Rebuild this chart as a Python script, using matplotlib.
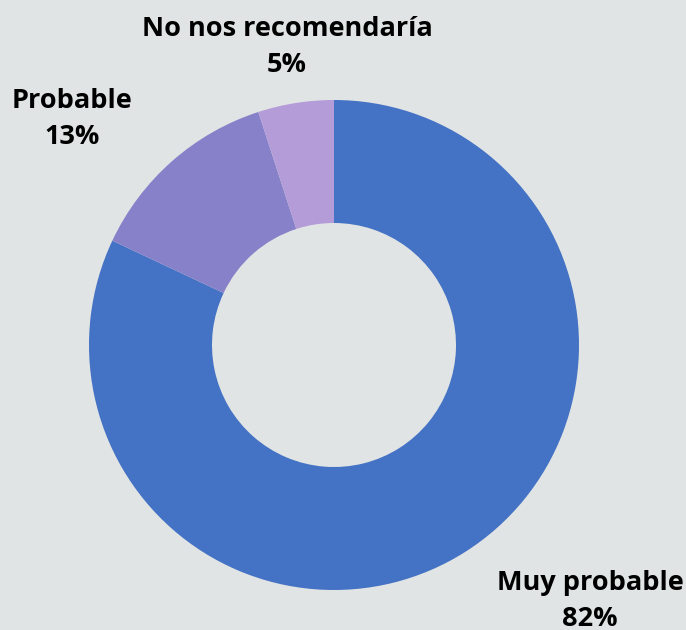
import matplotlib
matplotlib.use('Agg')
import matplotlib.pyplot as plt

categories = ['Muy probable', 'Probable', 'No nos recomendaría']
values = [82, 13, 5]
colors = ['#4472c4', '#8781c9', '#b49cd9']

# label positions in pixels (x, y from top)
label_pos = [(590, 601), (72, 119), (287, 47)]

bg = '#e1e4e4'
fig = plt.figure(figsize=(6.86, 6.3), dpi=100, facecolor=bg)
ax = fig.add_axes([0, 0, 1, 1])
ax.set_facecolor(bg)

ax.pie(values, colors=colors, startangle=90, counterclock=False,
       center=(334, 285), radius=245, frame=True,
       wedgeprops=dict(width=123, linewidth=0))
ax.set_xlim(0, 686)
ax.set_ylim(0, 630)
ax.set_aspect('equal')
ax.axis('off')

for cat, v, (x, y) in zip(categories, values, label_pos):
    ax.text(x, 630 - y, '%s\n%d%%' % (cat, v), ha='center', va='center',
            fontsize=19.5, fontweight='bold', family=['Open Sans', 'DejaVu Sans'],
            linespacing=1.45, color='black')

fig.savefig('out.png', dpi=100, facecolor=bg)
